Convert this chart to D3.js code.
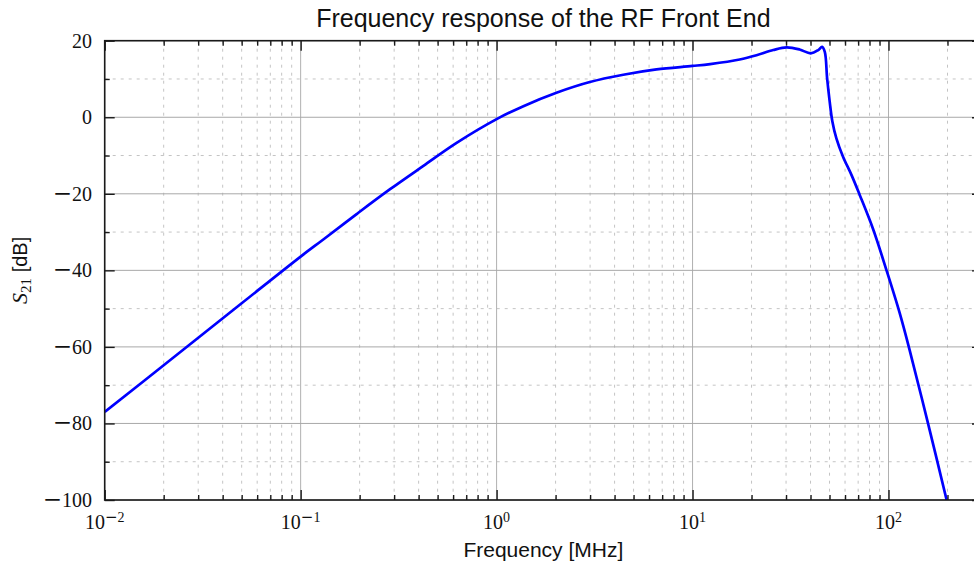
<!DOCTYPE html>
<html>
<head>
<meta charset="utf-8">
<script src="https://cdn.jsdelivr.net/npm/d3@7/dist/d3.min.js"></script>
<style>
  html, body { margin: 0; padding: 0; background: #fff; }
  svg { display: block; }
</style>
</head>
<body>
<svg id="chart" width="974" height="561"></svg>
<script>
// ---- data ----
const freqMHz = [0.01, 0.02, 0.05, 0.1, 0.13, 0.193, 0.286, 0.423, 0.625, 1.0, 1.37, 2.02, 2.99, 4.43, 6.55, 10, 12.3, 17.4, 21.2, 25.8, 30.2, 35.2, 40.1, 43.8, 45.8, 47.3, 48.6, 50.1, 51.7, 54.2, 58.6, 64.7, 71.3, 83.4, 97.7, 113.8, 128, 160, 198];
const s21dB   = [-77, -64.8, -48.6, -36.4, -32.0, -25.3, -18.8, -12.7, -6.7, -0.5, 2.9, 6.4, 9.2, 11.1, 12.5, 13.4, 13.9, 15.1, 16.2, 17.56, 18.26, 17.7, 16.7, 17.56, 18.4, 17.1, 10.2, 4.1, -1.1, -5.5, -10.3, -15.05, -20.3, -29.2, -40, -51, -60.7, -80.5, -100];
const xDomain = [0.01, 300];
const yDomain = [-100, 20];
const xMajorTicks = [0.01, 0.1, 1, 10, 100];
const xTickExponents = ["−2", "−1", "0", "1", "2"];
const yMajorTicks = [-100, -80, -60, -40, -20, 0, 20];
const yTickLabels = ["−100", "−80", "−60", "−40", "−20", "0", "20"];
const yMinorTicks = [-90, -70, -50, -30, -10, 10];
const titleText = "Frequency response of the RF Front End";
const xLabelText = "Frequency [MHz]";

// ---- layout ----
const L = 104.7, R = 982, T = 40.7, B = 500;
const svg = d3.select("#chart");
const x = d3.scaleLog().domain(xDomain).range([L, R]);
const y = d3.scaleLinear().domain(yDomain).range([B, T]);

const xMinorTicks = [];
xMajorTicks.forEach(d => { for (let k = 2; k <= 9; k++) { const v = d * k; if (v <= xDomain[1] * 1.0001) xMinorTicks.push(v); } });

svg.append("defs").append("clipPath").attr("id", "clip")
  .append("rect").attr("x", L).attr("y", T).attr("width", R - L).attr("height", B - T);

// grid
const grid = svg.append("g");
grid.selectAll(".vmin").data(xMinorTicks).enter().append("line")
  .attr("x1", d => x(d)).attr("x2", d => x(d)).attr("y1", T).attr("y2", B)
  .attr("stroke", "#c4c4c4").attr("stroke-width", 1).attr("stroke-dasharray", "3,5");
grid.selectAll(".hmin").data(yMinorTicks).enter().append("line")
  .attr("x1", L).attr("x2", R).attr("y1", d => y(d)).attr("y2", d => y(d))
  .attr("stroke", "#c4c4c4").attr("stroke-width", 1).attr("stroke-dasharray", "3,5");
grid.selectAll(".vmaj").data(xMajorTicks).enter().append("line")
  .attr("x1", d => x(d)).attr("x2", d => x(d)).attr("y1", T).attr("y2", B)
  .attr("stroke", "#b0b0b0").attr("stroke-width", 1);
grid.selectAll(".hmaj").data(yMajorTicks).enter().append("line")
  .attr("x1", L).attr("x2", R).attr("y1", d => y(d)).attr("y2", d => y(d))
  .attr("stroke", "#a8a8a8").attr("stroke-width", 1);

// curve
const pts = freqMHz.map((f, i) => [f, s21dB[i]]);
const line = d3.line().x(d => x(d[0])).y(d => y(d[1])).curve(d3.curveCatmullRom.alpha(0.5));
svg.append("path").datum(pts).attr("clip-path", "url(#clip)")
  .attr("d", line).attr("fill", "none").attr("stroke", "#0000ff").attr("stroke-width", 2.7)
  .attr("stroke-linejoin", "round");

// axes with inward ticks
const tickCol = "#1a1a1a";
function styleAxis(g) {
  g.selectAll(".domain").remove();
  g.selectAll("line").attr("stroke", tickCol).attr("stroke-width", 1.4);
  g.selectAll("text").remove();
}
svg.append("g").attr("transform", `translate(0,${B})`)
  .call(d3.axisBottom(x).tickValues(xMajorTicks).tickSize(-10).tickFormat("")).call(styleAxis);
svg.append("g").attr("transform", `translate(0,${B})`)
  .call(d3.axisBottom(x).tickValues(xMinorTicks).tickSize(-5).tickFormat("")).call(styleAxis);
svg.append("g").attr("transform", `translate(0,${T})`)
  .call(d3.axisTop(x).tickValues(xMajorTicks).tickSize(-10).tickFormat("")).call(styleAxis);
svg.append("g").attr("transform", `translate(0,${T})`)
  .call(d3.axisTop(x).tickValues(xMinorTicks).tickSize(-5).tickFormat("")).call(styleAxis);
svg.append("g").attr("transform", `translate(${L},0)`)
  .call(d3.axisLeft(y).tickValues(yMajorTicks).tickSize(-10).tickFormat("")).call(styleAxis);
svg.append("g").attr("transform", `translate(${L},0)`)
  .call(d3.axisLeft(y).tickValues(yMinorTicks).tickSize(-5).tickFormat("")).call(styleAxis);
svg.append("g").attr("transform", `translate(${R},0)`)
  .call(d3.axisRight(y).tickValues(yMajorTicks).tickSize(-10).tickFormat("")).call(styleAxis);
svg.append("g").attr("transform", `translate(${R},0)`)
  .call(d3.axisRight(y).tickValues(yMinorTicks).tickSize(-5).tickFormat("")).call(styleAxis);

// spines
svg.append("rect").attr("x", L).attr("y", T).attr("width", R - L).attr("height", B - T)
  .attr("fill", "none").attr("stroke", tickCol).attr("stroke-width", 1.6);

// tick labels
const serif = "'Liberation Serif', 'DejaVu Serif', serif";
const minusFont = "'DejaVu Serif', serif";
svg.selectAll(".ylab").data(yMajorTicks).enter().append("text")
  .attr("x", 92).attr("y", d => y(d) + 7)
  .attr("text-anchor", "end").attr("font-family", serif).attr("font-size", 20).attr("fill", "#111")
  .each(function (d, i) {
    const t = d3.select(this), s = yTickLabels[i];
    if (s.startsWith("−")) {
      t.append("tspan").attr("font-family", minusFont).attr("font-size", 23).text("−");
      t.append("tspan").text(s.slice(1));
    } else {
      t.append("tspan").text(s);
    }
  });
svg.selectAll(".xlab").data(xMajorTicks).enter().append("text")
  .attr("x", d => x(d)).attr("y", 529)
  .attr("text-anchor", "middle").attr("font-family", serif).attr("font-size", 20).attr("fill", "#111")
  .each(function (d, i) {
    const t = d3.select(this), e = xTickExponents[i];
    t.append("tspan").text("10");
    if (e.startsWith("−")) {
      t.append("tspan").attr("dy", -7.5).attr("font-family", minusFont).attr("font-size", 15).text("−");
      t.append("tspan").attr("font-size", 14).text(e.slice(1));
    } else {
      t.append("tspan").attr("dy", -7.5).attr("font-size", 14).text(e);
    }
  });

// titles
const sans = "'Liberation Sans', Arial, Helvetica, sans-serif";
svg.append("text").attr("x", (L + R) / 2).attr("y", 27).attr("text-anchor", "middle")
  .attr("font-family", sans).attr("font-size", 25).attr("fill", "#111").text(titleText);
svg.append("text").attr("x", (L + R) / 2).attr("y", 557).attr("text-anchor", "middle")
  .attr("font-family", sans).attr("font-size", 21).attr("fill", "#111").text(xLabelText);

const yl = svg.append("text").attr("transform", `translate(27,${(T + B) / 2}) rotate(-90)`)
  .attr("text-anchor", "middle").attr("font-size", 20).attr("fill", "#111");
yl.append("tspan").attr("font-family", serif).attr("font-style", "italic").attr("font-size", 22).text("S");
yl.append("tspan").attr("font-family", serif).attr("font-size", 15).attr("dy", 4).text("21");
yl.append("tspan").attr("font-family", sans).attr("font-size", 20).attr("dy", -4).text(" [dB]");
</script>
</body>
</html>
